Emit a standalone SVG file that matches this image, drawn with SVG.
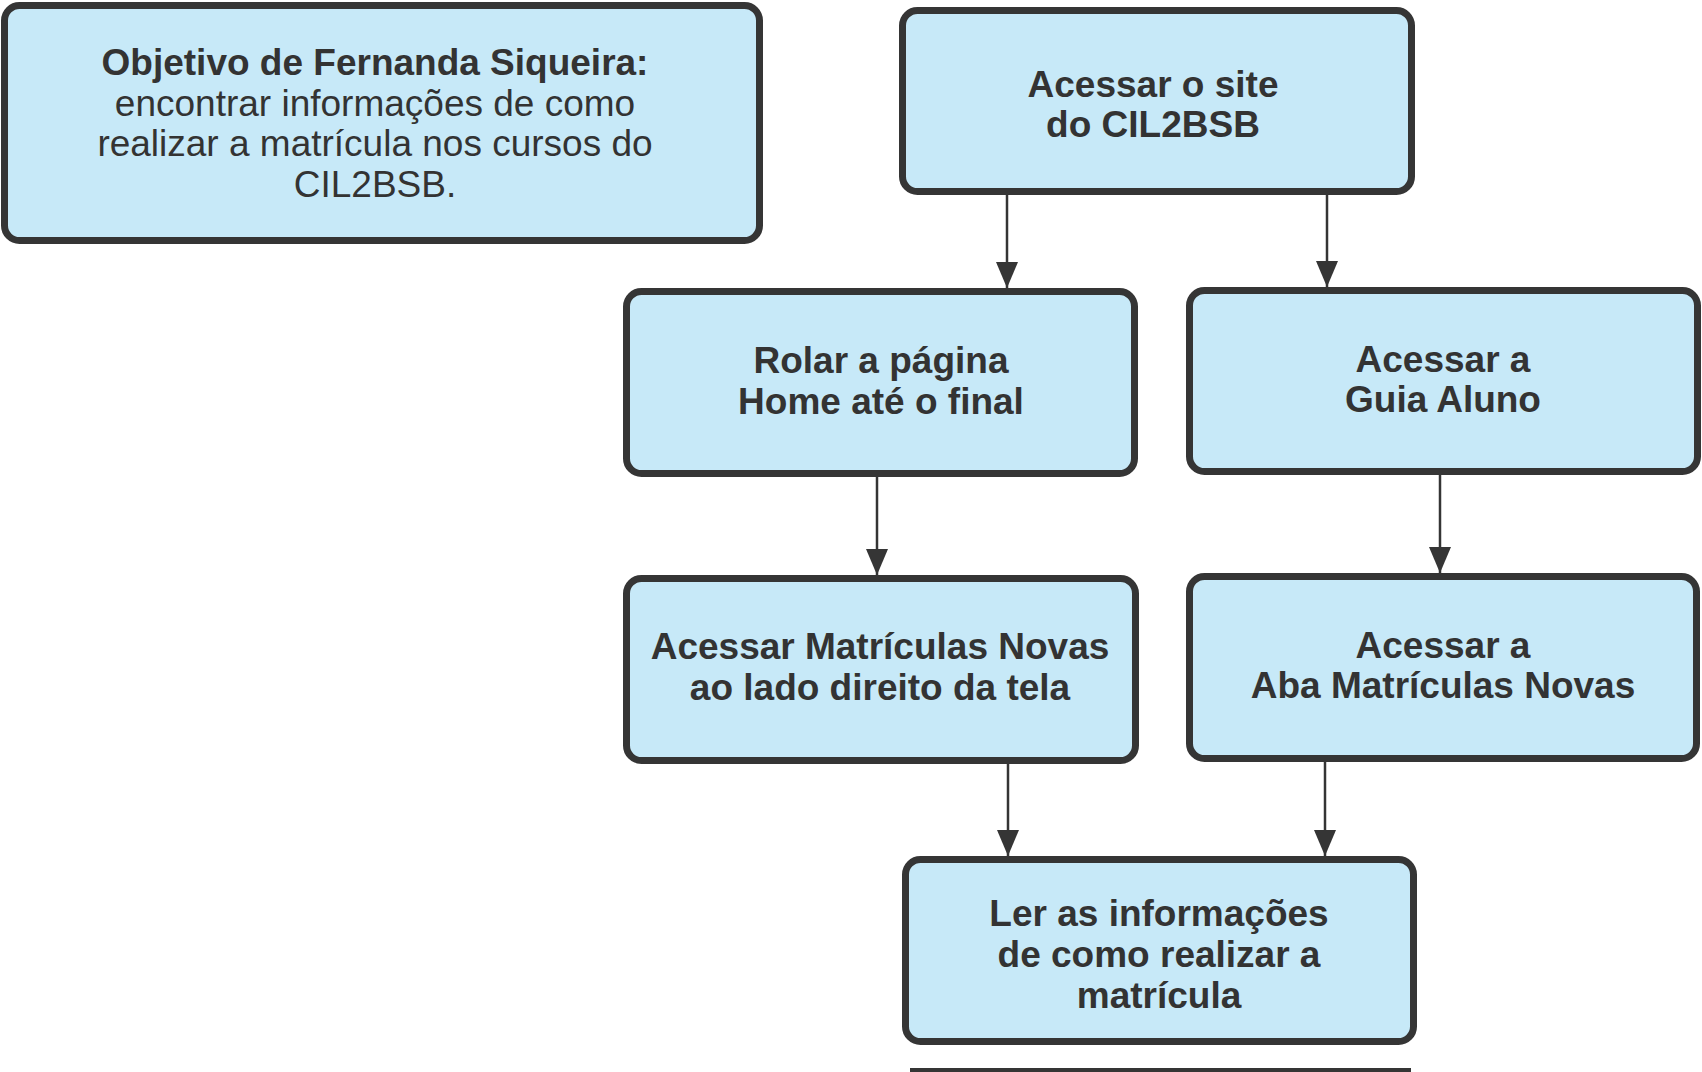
<svg xmlns="http://www.w3.org/2000/svg" width="1702" height="1072" viewBox="0 0 1702 1072">
<style>
.box{fill:#c7e9f8;stroke:#353535;stroke-width:7}
.t{font-family:"Liberation Sans",Arial,sans-serif;font-size:37px;fill:#333333;text-anchor:middle}
.b{font-weight:bold}
.c{stroke:#353535;stroke-width:2.5;fill:none}
</style>
<defs>
<marker id="ah" markerUnits="userSpaceOnUse" markerWidth="26" markerHeight="22" refX="26" refY="11" orient="auto" viewBox="0 0 26 22">
<path d="M0,0 L26,11 L0,22 z" fill="#353535"/>
</marker>
</defs>
<rect width="1702" height="1072" fill="#ffffff"/>
<g id="connectors">
<line class="c" x1="1007" y1="195" x2="1007" y2="288" marker-end="url(#ah)"/>
<line class="c" x1="1327" y1="195" x2="1327" y2="287" marker-end="url(#ah)"/>
<line class="c" x1="877" y1="477" x2="877" y2="575" marker-end="url(#ah)"/>
<line class="c" x1="1440" y1="475" x2="1440" y2="573" marker-end="url(#ah)"/>
<line class="c" x1="1008" y1="763" x2="1008" y2="856" marker-end="url(#ah)"/>
<line class="c" x1="1325" y1="762" x2="1325" y2="856" marker-end="url(#ah)"/>
</g>
<g id="objetivo">
<rect class="box" x="4.5" y="5.5" width="755" height="235" rx="15"/>
<text class="t" x="375" y="75"><tspan class="b">Objetivo de Fernanda Siqueira:</tspan></text>
<text class="t" x="375" y="116">encontrar informações de como</text>
<text class="t" x="375" y="156">realizar a matrícula nos cursos do</text>
<text class="t" x="375" y="197">CIL2BSB.</text>
</g>
<g id="acessar-site">
<rect class="box" x="902.5" y="10.5" width="509" height="181" rx="15"/>
<text class="t b" x="1153" y="97">Acessar o site</text>
<text class="t b" x="1153" y="137">do CIL2BSB</text>
</g>
<g id="rolar-pagina">
<rect class="box" x="626.5" y="291.5" width="508" height="182" rx="15"/>
<text class="t b" x="881" y="373">Rolar a página</text>
<text class="t b" x="881" y="414">Home até o final</text>
</g>
<g id="guia-aluno">
<rect class="box" x="1189.5" y="290.5" width="508" height="181" rx="15"/>
<text class="t b" x="1443" y="372">Acessar a</text>
<text class="t b" x="1443" y="412">Guia Aluno</text>
</g>
<g id="matriculas-novas">
<rect class="box" x="626.5" y="578.5" width="509" height="182" rx="15"/>
<text class="t b" x="880" y="659">Acessar Matrículas Novas</text>
<text class="t b" x="880" y="700">ao lado direito da tela</text>
</g>
<g id="aba-matriculas">
<rect class="box" x="1189.5" y="576.5" width="507" height="182" rx="15"/>
<text class="t b" x="1443" y="658">Acessar a</text>
<text class="t b" x="1443" y="698">Aba Matrículas Novas</text>
</g>
<g id="ler-informacoes">
<rect class="box" x="905.5" y="859.5" width="508" height="182" rx="15"/>
<text class="t b" x="1159" y="926">Ler as informações</text>
<text class="t b" x="1159" y="967">de como realizar a</text>
<text class="t b" x="1159" y="1008">matrícula</text>
</g>
<line x1="910" y1="1070" x2="1411" y2="1070" stroke="#353535" stroke-width="4"/>
</svg>
